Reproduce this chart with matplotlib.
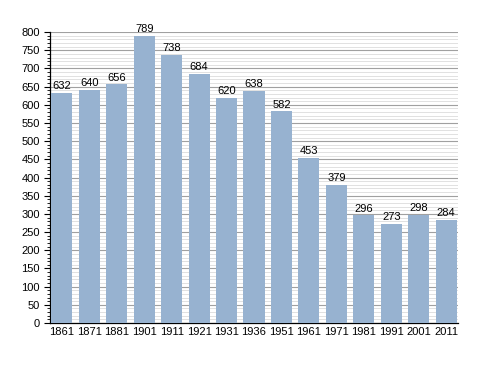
import matplotlib.pyplot as plt
from matplotlib.ticker import MultipleLocator

plt.rcParams['font.family'] = ['Liberation Sans', 'DejaVu Sans']

years = ['1861', '1871', '1881', '1901', '1911', '1921', '1931', '1936',
         '1951', '1961', '1971', '1981', '1991', '2001', '2011']
population = [632, 640, 656, 789, 738, 684, 620, 638, 582, 453, 379, 296, 273, 298, 284]

fig = plt.figure(figsize=(4.88, 3.73), dpi=100)
ax = fig.add_axes([0.103, 0.134, 0.835, 0.780])

x = range(len(years))
ax.bar(x, population, width=0.77, color='#97b2d0', zorder=3)

for xi, v in zip(x, population):
    ax.text(xi, v + 5, str(v), ha='center', va='bottom', fontsize=8, zorder=4)

ax.set_xlim(-0.42, len(years) - 0.58)
ax.set_ylim(0, 800)
ax.set_xticks(list(x))
ax.set_xticklabels(years, fontsize=8)
ax.yaxis.set_major_locator(MultipleLocator(50))
ax.yaxis.set_minor_locator(MultipleLocator(10))
ax.tick_params(axis='y', labelsize=8, length=4, width=0.8)
ax.tick_params(axis='y', which='minor', length=2, width=0.6)
ax.tick_params(axis='x', length=0, pad=3)

ax.grid(axis='y', which='major', color='#a0a0a0', linewidth=0.8, zorder=0)
ax.grid(axis='y', which='minor', color='#dcdcdc', linewidth=0.6, zorder=0)

for s in ['top', 'right']:
    ax.spines[s].set_visible(False)
ax.spines['left'].set_linewidth(0.9)
ax.spines['bottom'].set_linewidth(0.9)

fig.savefig('out.png', dpi=100)
